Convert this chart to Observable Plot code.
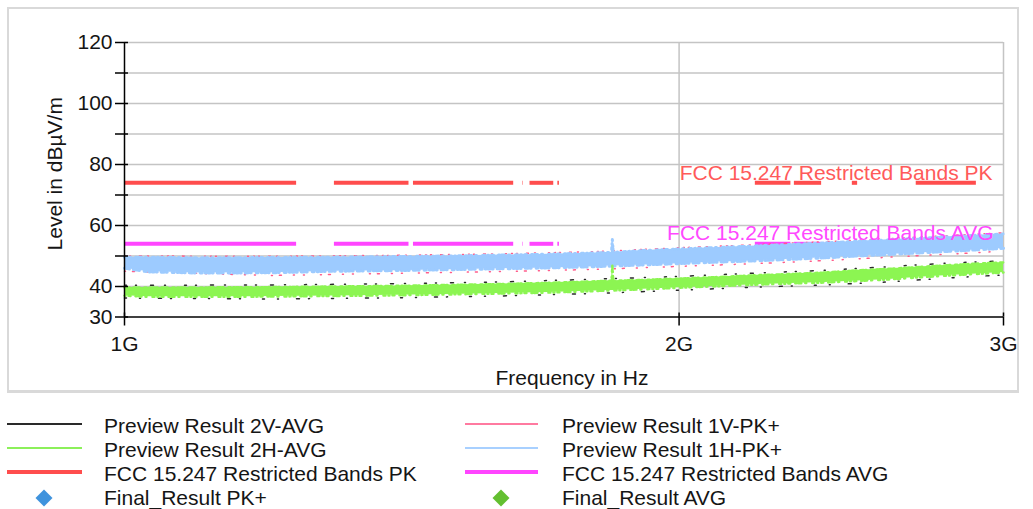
<!DOCTYPE html>
<html>
<head>
<meta charset="utf-8">
<script src="https://cdn.jsdelivr.net/npm/d3@7"></script>
<script src="https://cdn.jsdelivr.net/npm/@observablehq/plot@0.6"></script>
<style>
  html, body { margin: 0; padding: 0; background: #fff; }
  body { width: 1033px; height: 509px; position: relative; overflow: hidden;
         font-family: "Liberation Sans", Arial, sans-serif; color: #151515; }
  #frame { position: absolute; left: 7px; top: 7px; width: 1012px; height: 386px;
           box-sizing: border-box; border: 2px solid #d9d9d9; border-bottom-width: 3px; }
  #chart { position: absolute; left: 0; top: 0; }
  .leg { position: absolute; font-size: 21px; line-height: 24px; white-space: nowrap; }
  .sw { position: absolute; }
</style>
</head>
<body>
<div id="frame"></div>
<div id="chart"></div>
<div id="legend"></div>
<script>
// ---- data ----
const traceFreqs = [1000, 1030, 1100, 1200, 1300, 1400, 1500, 1600, 1700, 1800, 1838, 1840, 1842, 1900, 2000, 2100, 2200, 2300, 2400, 2500, 2600, 2700, 2800, 2900, 3000]; // MHz
const h1PkHi = [49.6, 49.6, 49.4, 49.5, 49.6, 49.8, 50.0, 50.3, 50.6, 51.0, 51.2, 55.4, 51.2, 51.7, 52.3, 52.8, 53.3, 53.8, 54.3, 54.8, 55.3, 55.8, 56.3, 56.8, 57.2];
const h1PkLo = [46.0, 44.8, 44.4, 44.5, 45.0, 45.2, 45.5, 45.8, 46.1, 46.5, 46.7, 46.7, 46.7, 47.0, 47.5, 48.0, 48.4, 48.9, 49.4, 50.0, 50.5, 51.0, 51.5, 52.0, 52.5];
const h2AvgHi = [39.7, 39.7, 39.7, 39.8, 40.0, 40.2, 40.5, 40.8, 41.2, 41.7, 41.9, 46.9, 41.9, 42.1, 42.6, 43.1, 43.7, 44.1, 44.6, 45.3, 45.8, 46.4, 47.0, 47.5, 47.9];
const h2AvgLo = [37.0, 36.6, 36.6, 36.7, 36.9, 37.1, 37.4, 37.7, 38.0, 38.5, 38.7, 38.7, 38.7, 39.0, 39.6, 40.1, 40.6, 41.0, 41.3, 41.8, 42.3, 43.0, 43.6, 44.1, 44.6];

const edgeFreqs = [1000, 1200, 1400, 1600, 1800, 2000, 2200, 2400, 2600, 2800, 3000];
const v1PkHi  = [50.0, 49.9, 50.2, 50.7, 51.4, 52.7, 53.7, 54.7, 55.7, 56.7, 57.6];
const v1PkLo  = [45.0, 43.6, 44.3, 44.9, 45.6, 46.6, 47.5, 48.5, 49.6, 50.6, 51.6];
const v2AvgHi = [40.4, 40.5, 40.9, 41.5, 42.4, 43.3, 44.4, 45.3, 46.5, 47.7, 48.4];
const v2AvgLo = [36.2, 35.9, 36.3, 36.9, 37.7, 38.8, 39.8, 40.5, 41.5, 42.8, 43.8];

// FCC 15.247 restricted bands inside 1–3 GHz (MHz)
const bandStart = [1000, 1300, 1435, 1645.5, 1660, 1718.8, 2200, 2310, 2483.5, 2690];
const bandEnd   = [1240, 1427, 1626.5, 1646.5, 1710, 1722.2, 2300, 2390, 2500, 2900];
const limitPK = 74;
const limitAVG = 54;
const limitLabels = ["FCC 15.247 Restricted Bands PK", "FCC 15.247 Restricted Bands AVG"];

const yTicks = [30, 40, 50, 60, 70, 80, 90, 100, 110, 120];
const yLabelled = [30, 40, 60, 80, 100, 120];
const yGrid = [40, 50, 60, 70, 80, 90, 100, 110, 120];
const xTicks = [1000, 2000, 3000];
const xTickLabels = ["1G", "2G", "3G"];
const xGrid = [2000, 3000];

const legendNames = ["Preview Result 2V-AVG", "Preview Result 1V-PK+", "Preview Result 2H-AVG", "Preview Result 1H-PK+",
  "FCC 15.247 Restricted Bands PK", "FCC 15.247 Restricted Bands AVG", "Final_Result PK+", "Final_Result AVG"];
const legendKinds = ["line", "line", "line", "line", "thick", "thick", "diamond", "diamond"];

// ---- styles ----
const C = {
  v2avg: "#2a2a2a", h2avg: "#8cf552", pk: "#ff4d4d", finalPk: "#3f93dd",
  v1pk: "#ff5c8a", h1pk: "#9dcbff", avg: "#ff45ff", finalAvg: "#63bf30",
  grid: "#c4c4c4"
};
const legendColors = [C.v2avg, "#ff7aa0", "#8cf05a", "#a8d0ff", C.pk, C.avg, C.finalPk, C.finalAvg];
const FS = 21;
const noiseA = "1,3,2,5,1,2,3,4,1,6,2,3";
const noiseB = "2,2,1,4,3,2,1,5,2,3,1,2";

const W = 1033, H = 395, ML = 124, MR = 30, MT = 42, MB = 78.5;
const innerW = W - ML - MR, innerH = H - MT - MB;

const band = (f, hi, lo) => f.map((x, i) => ({f: x, hi: hi[i], lo: lo[i]}));
const blue = band(traceFreqs, h1PkHi, h1PkLo);
const green = band(traceFreqs, h2AvgHi, h2AvgLo);
const pink = band(edgeFreqs, v1PkHi, v1PkLo);
const black = band(edgeFreqs, v2AvgHi, v2AvgLo);
const bands = bandStart.map((s, i) => ({s, e: bandEnd[i]}));

const chart = Plot.plot({
  width: W, height: H,
  marginLeft: ML, marginRight: MR, marginTop: MT, marginBottom: MB,
  x: {type: "log", domain: [1000, 3000]},
  y: {domain: [30, 120]},
  style: {background: "transparent", fontFamily: "'Liberation Sans', Arial, sans-serif", fontSize: FS + "px", color: "#151515", overflow: "visible"},
  marks: [
    Plot.gridY(yGrid, {stroke: C.grid, strokeOpacity: 1, strokeWidth: 1.5}),
    Plot.gridX(xGrid, {stroke: C.grid, strokeOpacity: 1, strokeWidth: 1.5}),
    // limit lines
    Plot.ruleY(bands, {y: () => limitPK, x1: "s", x2: "e", stroke: C.pk, strokeWidth: 4}),
    Plot.ruleY(bands, {y: () => limitAVG, x1: "s", x2: "e", stroke: C.avg, strokeWidth: 4}),
    // 1V-PK+ (pink) speckles behind blue
    Plot.lineY(pink, {x: "f", y: "hi", stroke: C.v1pk, strokeWidth: 1.5, strokeDasharray: "1,4,1,9,2,6,1,13,1,5"}),
    Plot.lineY(pink, {x: "f", y: "lo", stroke: C.v1pk, strokeWidth: 1.5, strokeDasharray: "1,7,2,12,1,9,1,16"}),
    Plot.areaY(blue, {x: "f", y1: "lo", y2: "hi", fill: C.h1pk}),
    Plot.lineY(blue, {x: "f", y: "hi", stroke: C.h1pk, strokeWidth: 3, strokeDasharray: noiseA}),
    Plot.lineY(blue, {x: "f", y: "lo", stroke: C.h1pk, strokeWidth: 3, strokeDasharray: noiseB}),
    // 2V-AVG (black) speckles around green
    Plot.lineY(black, {x: "f", y: "hi", stroke: C.v2avg, strokeWidth: 1.5, strokeDasharray: "2,9,1,14,3,11,1,19"}),
    Plot.lineY(black, {x: "f", y: "lo", stroke: C.v2avg, strokeWidth: 1.5, strokeDasharray: "2,13,1,18,3,9,1,22"}),
    Plot.areaY(green, {x: "f", y1: "lo", y2: "hi", fill: C.h2avg}),
    Plot.lineY(green, {x: "f", y: "hi", stroke: C.h2avg, strokeWidth: 2.5, strokeDasharray: noiseB}),
    Plot.lineY(green, {x: "f", y: "lo", stroke: C.h2avg, strokeWidth: 2.5, strokeDasharray: noiseA}),
    // limit labels
    Plot.text([limitLabels[0]], {x: () => 3000, y: () => limitPK, text: d => d, textAnchor: "end", dx: -11, dy: -10, fill: "#ff5a5a", fontSize: FS}),
    Plot.text([limitLabels[1]], {x: () => 3000, y: () => limitAVG, text: d => d, textAnchor: "end", dx: -10, dy: -11, fill: "#ff48ff", fontSize: FS}),
    // axes
    Plot.ruleY([30], {stroke: "#000", strokeWidth: 1.5}),
    Plot.ruleX([1000], {stroke: "#000", strokeWidth: 1.5}),
    Plot.axisY(yTicks, {tickSize: 9, tickPadding: 3, stroke: "#000", strokeWidth: 1.5,
      tickFormat: d => yLabelled.includes(d) ? String(d) : "", label: null}),
    Plot.ruleY(yTicks, {y: d => d, insetRight: innerW - 4, stroke: "#000", strokeWidth: 1.5}),
    Plot.axisX(xTicks, {tickSize: 9, tickPadding: 10, stroke: "#000", strokeWidth: 1.5,
      tickFormat: d => xTickLabels[xTicks.indexOf(d)], label: null}),
    Plot.ruleX(xTicks, {x: d => d, insetTop: innerH - 4, stroke: "#000", strokeWidth: 1.5}),
    // axis titles
    Plot.text(["Frequency in Hz"], {frameAnchor: "bottom", text: d => d, dx: 8, dy: 68, fontSize: FS, fill: "#151515"}),
    Plot.text(["Level in dBµV/m"], {frameAnchor: "left", text: d => d, rotate: -90, textAnchor: "middle", dx: -69, dy: -6, fontSize: FS, fill: "#151515"})
  ]
});
document.getElementById("chart").appendChild(chart);

// ---- legend (HTML) ----
const legend = document.getElementById("legend");
const colX = [{line0: 7, line1: 82, text: 104, mark: 44}, {line0: 465, line1: 538, text: 562, mark: 501}];
const rowY = [426, 450, 474, 498];
legendNames.forEach((name, i) => {
  const col = colX[i % 2], cy = rowY[Math.floor(i / 2)];
  const kind = legendKinds[i], color = legendColors[i];
  const sw = document.createElement("div");
  sw.className = "sw";
  if (kind === "diamond") {
    const s = 12;
    Object.assign(sw.style, {left: (col.mark - s / 2) + "px", top: (cy - s / 2) + "px", width: s + "px", height: s + "px",
      background: color, transform: "rotate(45deg)"});
  } else {
    const t = kind === "thick" ? 4 : 2;
    Object.assign(sw.style, {left: col.line0 + "px", top: (cy - 2 - t / 2) + "px", width: (col.line1 - col.line0) + "px", height: t + "px", background: color});
  }
  legend.appendChild(sw);
  const tx = document.createElement("div");
  tx.className = "leg";
  tx.textContent = name;
  Object.assign(tx.style, {left: col.text + "px", top: (cy - 12) + "px"});
  legend.appendChild(tx);
});
</script>
</body>
</html>
